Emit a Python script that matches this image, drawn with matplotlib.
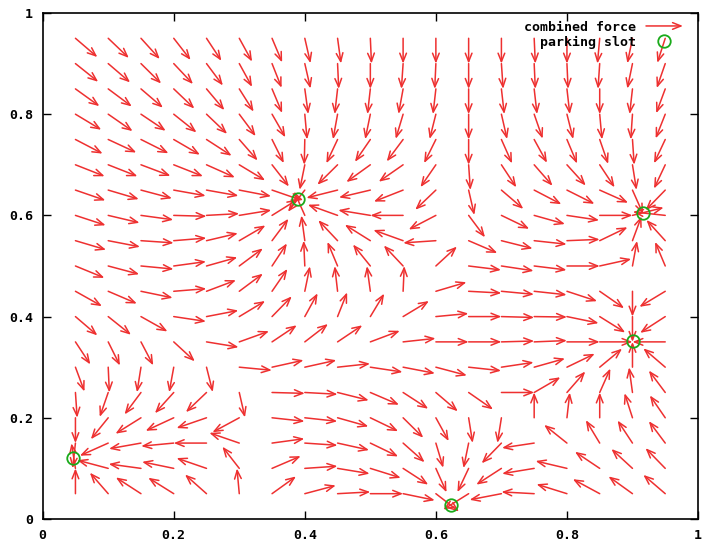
import numpy as np
import matplotlib
matplotlib.use("Agg")
import matplotlib.pyplot as plt
from matplotlib.lines import Line2D
from matplotlib.patches import FancyArrowPatch
from matplotlib.legend_handler import HandlerBase

# tail points of the force vectors (grid), rows listed from top to bottom
grid_x = [0.05, 0.10, 0.15, 0.20, 0.25, 0.30, 0.35, 0.40, 0.45, 0.50,
          0.55, 0.60, 0.65, 0.70, 0.75, 0.80, 0.85, 0.90, 0.95]
grid_y = [0.95, 0.90, 0.85, 0.80, 0.75, 0.70, 0.65, 0.60, 0.55, 0.50,
          0.45, 0.40, 0.35, 0.30, 0.25, 0.20, 0.15, 0.10, 0.05]

# direction of the combined force at each grid point (degrees, None = no arrow)
angles = [
    [-48, -51, -55, -59, -63, -67, -72, -80, -84, -88, -90, -90, -90, -90, -88, -90, -94, -99, -104],
    [-46, -48, -52, -54, -60, -67, -73, -80, -88, -90, -93, -92, -90, -87, -88, -88, -93, -99, -105],
    [-43, -44, -48, -51, -57, -64, -72, -84, -95, -95, -98, -95, -90, -85, -85, -85, -90, -95, -106],
    [-38, -42, -41, -46, -51, -60, -66, -86, -98, -99, -103, -101, -90, -80, -75, -79, -86, -93, -107],
    [-34, -31, -33, -37, -40, -56, -69, -91, -110, -118, -120, -111, -90, -71, -67, -72, -75, -87, -110],
    [-27, -27, -26, -27, -30, -38, -59, -99, -128, -137, -138, -118, -87, -63, -56, -55, -63, -83, -110],
    [-24, -21, -19, -13, -13, -14, -24, -121, -162, -163, -153, -129, -80, -48, -34, -33, -30, -71, -127],
    [-23, -17, -10, -2, 4, 12, 39, 109, 155, 168, 180, -146, -60, -32, -20, -11, 0, 18, 172],
    [-21, -14, -5, 6, 17, 37, 60, 96, 126, 141, 155, -175, -29, -18, -8, 3, 32, 74, 125],
    [-28, -19, -7, 10, 20, 44, 63, 92, 108, 122, 126, 50, -9, -11, -9, 0, 16, 82, 108],
    [-36, -29, -15, 6, 26, 44, 62, 81, 95, 96, 88, 21, -4, -7, -8, -23, -42, -90, -142],
    [-48, -46, -36, -11, 14, 38, 53, 67, 73, 65, 38, 7, 0, -2, -1, -15, -39, -90, -140],
    [-63, -69, -68, -50, -12, 25, 41, 45, 41, 26, 8, 0, 0, 2, 3, 0, 0, None, 180],
    [-74, -88, -97, -98, -79, -7, 16, 16, 8, -11, -14, -19, -8, 11, 20, 32, 47, 90, 132],
    [-87, -105, -120, -125, -129, -80, -2, -4, -18, -29, -40, -48, -42, 0, 37, 56, 71, 96, 120],
    [-90, -122, -141, -149, -156, -145, -8, -8, -20, -32, -52, -67, -83, -97, 90, 85, 90, 104, 118],
    [-95, -150, -167, -173, 180, 156, 10, -5, -16, -32, -49, -77, -99, -127, -169, 134, 115, 117, 120],
    [97, 161, 170, 165, 156, 121, 29, 5, -12, -22, -40, -71, -110, -140, -168, 163, 139, 130, 127],
    [90, 124, 140, 141, 131, 94, 43, 19, 4, 0, -15, -45, -141, -166, 176, 158, 145, 137, 132],
]
arrow_len = 0.05

# parking slots
slot_x = [0.389, 0.916, 0.901, 0.623, 0.047]
slot_y = [0.632, 0.605, 0.352, 0.028, 0.120]

red = "#ee3030"
green = "#1aaa1a"
head = "->,head_length=0.6,head_width=0.24"
font = {"family": "DejaVu Sans Mono", "weight": "bold", "size": 9.5}

fig = plt.figure(figsize=(7.03, 5.41), dpi=100)
ax = fig.add_axes([0.0607, 0.0407, 0.9322, 0.9353])

for i, y in enumerate(grid_y):
    for j, x in enumerate(grid_x):
        a = angles[i][j]
        if a is None:
            continue
        t = np.radians(a)
        ax.annotate("", xy=(x + arrow_len * np.cos(t), y + arrow_len * np.sin(t)),
                    xytext=(x, y),
                    arrowprops=dict(arrowstyle=head, color=red, lw=1.1,
                                    shrinkA=0, shrinkB=0))

ax.plot(slot_x, slot_y, ls="none", marker="o", ms=9, mfc="none",
        mec=green, mew=1.3, zorder=5)

ax.set_xlim(0, 1)
ax.set_ylim(0, 1)
ticks = [0, 0.2, 0.4, 0.6, 0.8, 1]
labels = ["0", "0.2", "0.4", "0.6", "0.8", "1"]
ax.set_xticks(ticks)
ax.set_xticklabels(labels, fontdict=font)
ax.set_yticks(ticks)
ax.set_yticklabels(labels, fontdict=font)
ax.tick_params(direction="in", length=6, width=1, top=True, right=True, pad=7)
for s in ax.spines.values():
    s.set_linewidth(1.2)


class ArrowHandler(HandlerBase):
    def create_artists(self, legend, orig_handle, xdescent, ydescent,
                       width, height, fontsize, trans):
        yc = height / 2 - ydescent
        p = FancyArrowPatch((-xdescent, yc), (width - xdescent, yc),
                            arrowstyle=head, mutation_scale=10, color=red,
                            lw=1.1, shrinkA=0, shrinkB=0, transform=trans)
        return [p]


handles = [FancyArrowPatch((0, 0), (1, 0)),
           Line2D([], [], ls="none", marker="o", ms=9, mfc="none",
                  mec=green, mew=1.3)]
ax.legend(handles, ["combined force", "parking slot"],
          handler_map={FancyArrowPatch: ArrowHandler()},
          loc="upper right", bbox_to_anchor=(0.977, 0.985), frameon=False,
          markerfirst=False, borderaxespad=0, borderpad=0,
          handlelength=2.8, handletextpad=0.75, labelspacing=0.15,
          prop=font)

fig.savefig("out.png", dpi=100)
